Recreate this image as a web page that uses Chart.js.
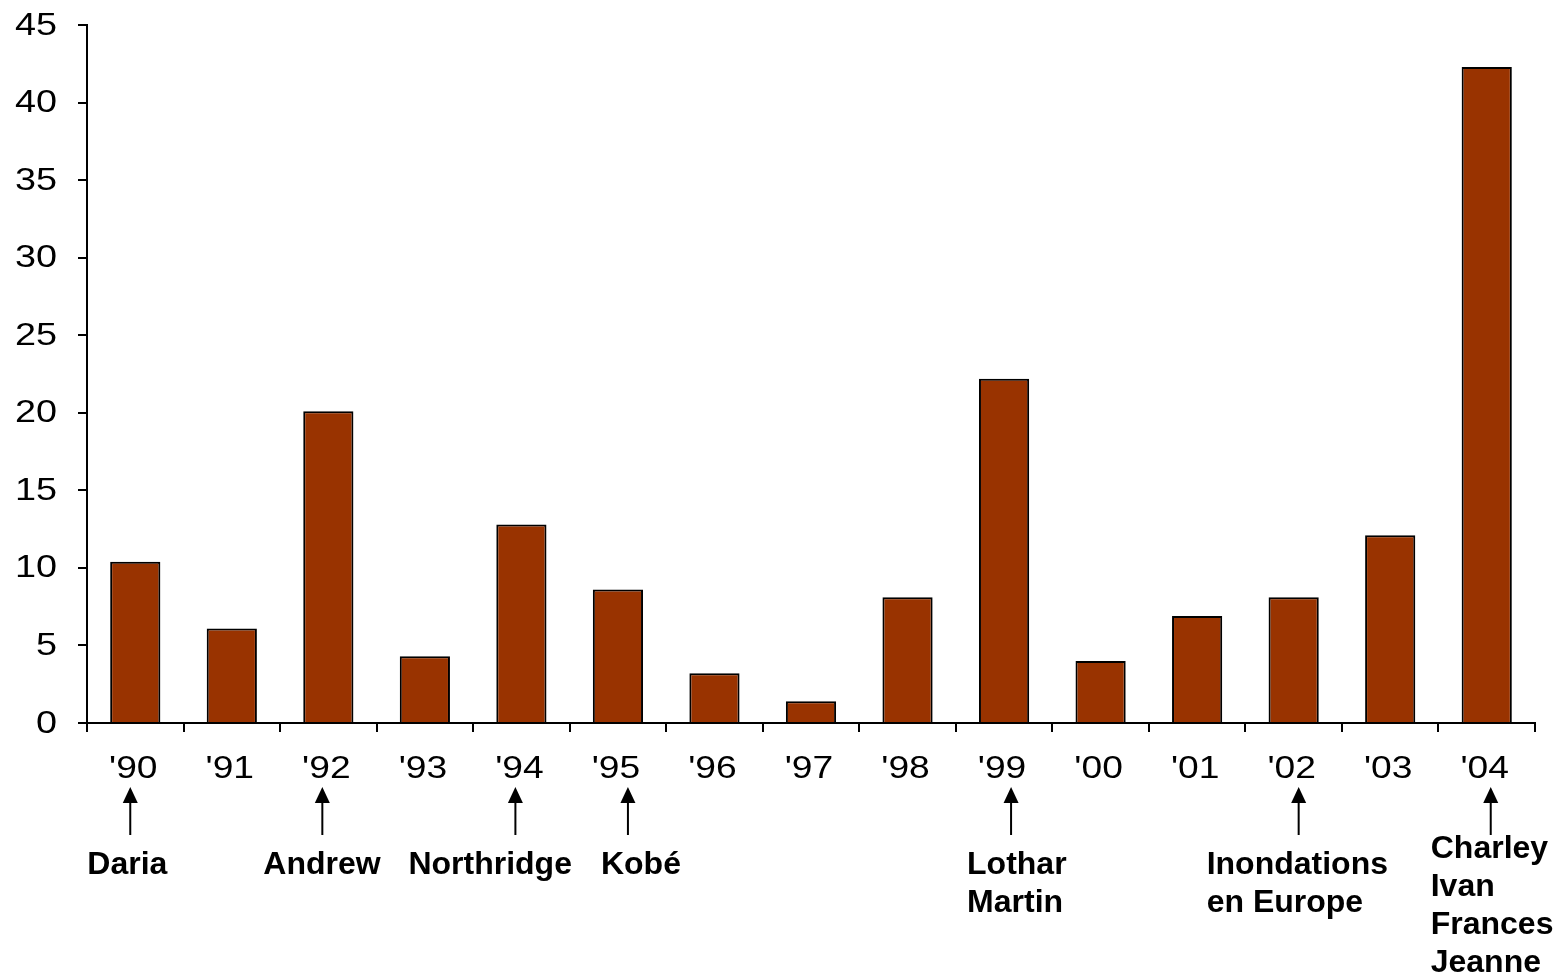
<!DOCTYPE html>
<html>
<head>
<meta charset="utf-8">
<script src="https://cdn.jsdelivr.net/npm/chart.js@4"></script>
<style>
  html, body { margin: 0; padding: 0; background: #fff; }
  #wrap { width: 1557px; height: 976px; }
</style>
</head>
<body>
<div id="wrap"><canvas id="myChart"></canvas></div>
<script>
const years = ["'90", "'91", "'92", "'93", "'94", "'95", "'96", "'97", "'98", "'99", "'00", "'01", "'02", "'03", "'04"];
const losses = [10.4, 6.1, 20.1, 4.3, 12.8, 8.6, 3.2, 1.4, 8.1, 22.2, 4.0, 6.9, 8.1, 12.1, 42.3];
const yTicks = [0, 5, 10, 15, 20, 25, 30, 35, 40, 45];

// events pointed at under the year labels
const eventYears = ["'90", "'92", "'94", "'95", "'99", "'02", "'04"];
const eventNames = [
  ["Daria"],
  ["Andrew"],
  ["Northridge"],
  ["Kobé"],
  ["Lothar", "Martin"],
  ["Inondations", "en Europe"],
  ["Charley", "Ivan", "Frances", "Jeanne"],
];
// layout only: arrow offset from category centre, text start from arrow
const arrowShift = [-5, -6, -6, 10, 7, 5, 4];
const textShift = [-43, -59, -107, -27, -44, -92, -60];

const FONT = "'Liberation Sans', Arial, sans-serif";

// tick labels are drawn here because the original text is stretched sideways
const tickText = {
  id: "tickText",
  afterDraw(chart) {
    const ctx = chart.ctx;
    const x = chart.scales.x;
    const y = chart.scales.y;
    ctx.save();
    ctx.fillStyle = "#000";
    ctx.font = "31px " + FONT;
    ctx.textBaseline = "middle";
    ctx.textAlign = "right";
    yTicks.forEach((v) => {
      ctx.save();
      ctx.translate(57, y.getPixelForValue(v) + 1);
      ctx.scale(1.22, 1);
      ctx.fillText(String(v), 0, 0);
      ctx.restore();
    });
    ctx.textAlign = "center";
    years.forEach((lab, i) => {
      ctx.save();
      ctx.translate(x.getPixelForValue(i) - 2, y.bottom + 46);
      ctx.scale(1.2, 1);
      ctx.fillText(lab, 0, 0);
      ctx.restore();
    });
    ctx.restore();
  },
};

const annotations = {
  id: "annotations",
  afterDraw(chart) {
    const ctx = chart.ctx;
    const x = chart.scales.x;
    ctx.save();
    ctx.fillStyle = "#000";
    ctx.strokeStyle = "#000";
    ctx.lineWidth = 2;
    ctx.font = "bold 32px " + FONT;
    ctx.textBaseline = "middle";
    ctx.textAlign = "left";
    eventYears.forEach((yr, i) => {
      const ax = x.getPixelForValue(years.indexOf(yr)) + arrowShift[i];
      ctx.beginPath();
      ctx.moveTo(ax, 800);
      ctx.lineTo(ax, 835);
      ctx.stroke();
      ctx.beginPath();
      ctx.moveTo(ax, 787);
      ctx.lineTo(ax - 7.5, 803);
      ctx.lineTo(ax + 7.5, 803);
      ctx.closePath();
      ctx.fill();
      const lines = eventNames[i];
      const y0 = lines.length > 3 ? 849 : 865;
      lines.forEach((t, j) => ctx.fillText(t, ax + textShift[i], y0 + j * 38));
    });
    ctx.restore();
  },
};

const ctx1 = document.getElementById("myChart").getContext("2d");
const myChart = new Chart(ctx1, {
  type: "bar",
  data: {
    labels: years,
    datasets: [
      {
        data: losses,
        backgroundColor: "#993300",
        borderColor: "#000",
        borderWidth: 2,
        barPercentage: 0.52,
        categoryPercentage: 1,
      },
    ],
  },
  options: {
    responsive: true,
    maintainAspectRatio: false,
    animation: false,
    layout: { padding: { top: 25, right: 22, left: 0, bottom: 0 } },
    scales: {
      x: {
        grid: {
          display: true,
          drawOnChartArea: false,
          drawTicks: true,
          tickLength: 9,
          color: "#000",
          lineWidth: 2,
        },
        border: { display: true, color: "#000", width: 2 },
        ticks: { display: false },
        afterFit(scale) { scale.height = 253; },
      },
      y: {
        min: 0,
        max: 45,
        afterBuildTicks(scale) { scale.ticks = yTicks.map((v) => ({ value: v })); },
        grid: {
          display: true,
          drawOnChartArea: false,
          drawTicks: true,
          tickLength: 9,
          color: "#000",
          lineWidth: 2,
        },
        border: { display: true, color: "#000", width: 2 },
        ticks: { display: false },
        afterFit(scale) { scale.width = 87; },
      },
    },
    plugins: {
      legend: { display: false },
      tooltip: { enabled: false },
    },
  },
  plugins: [tickText, annotations],
});
</script>
</body>
</html>
